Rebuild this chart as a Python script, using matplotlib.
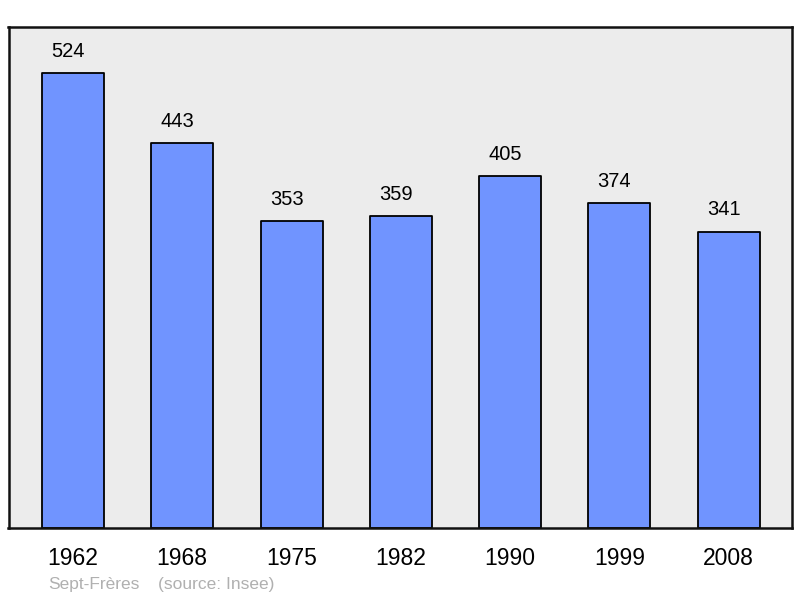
import matplotlib.pyplot as plt

# Population data
years = ["1962", "1968", "1975", "1982", "1990", "1999", "2008"]
population = [524, 443, 353, 359, 405, 374, 341]
place = "Sept-Frères"
source = "(source: Insee)"

plt.rcParams['font.family'] = ['Liberation Sans', 'DejaVu Sans']

fig = plt.figure(figsize=(8, 5.98), dpi=100)
W, H = 800, 598
ax = fig.add_axes([8.5 / W, 1 - 528 / H, 783.5 / W, 501 / H])
ax.set_facecolor('#ececec')

x = range(len(years))
bars = ax.bar(x, population, width=0.567, color='#7094ff', edgecolor='black',
              linewidth=1.3, zorder=2)
for b in bars:
    b.set_joinstyle('round')

# value labels sit a little left of the bar centre
for xi, v in zip(x, population):
    ax.annotate(str(v), (xi, v), xytext=(-3.6, 9), textcoords='offset points',
                ha='center', va='bottom', fontsize=14.5)

ax.set_xlim(-0.59, len(years) - 1 + 0.58)
ax.set_ylim(0, 577)
ax.set_yticks([])
ax.set_xticks(list(x))
ax.set_xticklabels(years, fontsize=16.5)
ax.tick_params(axis='x', length=0, pad=14)
for s in ax.spines.values():
    s.set_linewidth(1.8)
    s.set_color('#111111')

fig.text(48 / W, 1 - 584 / H, place, fontsize=12.5, color='#b0b0b0', va='center')
fig.text(158 / W, 1 - 584 / H, source, fontsize=12.5, color='#b0b0b0', va='center')

fig.savefig('out.png', dpi=100)
